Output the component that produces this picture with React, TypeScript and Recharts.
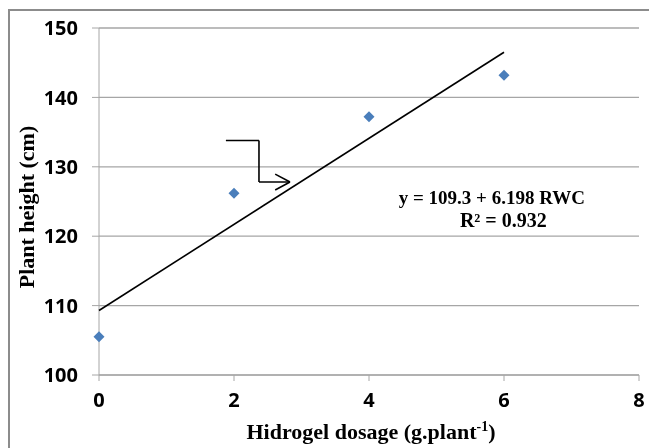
import { ScatterChart, Scatter, XAxis, YAxis, CartesianGrid, ReferenceLine, ReferenceDot } from "recharts";

const dosage = [0, 2, 4, 6];
const plantHeight = [105.5, 126.2, 137.2, 143.2];

const trendX = [0, 6];
const trendY = [109.3, 146.5];

const xTicks = [0, 2, 4, 6, 8];
const yTicks = [100, 110, 120, 130, 140, 150];

// bent arrow annotation, in data units
const arrowPath = [
  { x: 1.88, y: 133.8 },
  { x: 2.37, y: 133.8 },
  { x: 2.37, y: 127.8 },
  { x: 2.83, y: 127.8 },
];
const arrowHead = [
  { x: 2.61, y: 128.95 },
  { x: 2.83, y: 127.8 },
  { x: 2.61, y: 126.65 },
];

const points = dosage.map((x, i) => ({ x, y: plantHeight[i] }));
const trend = trendX.map((x, i) => ({ x, y: trendY[i] }));

const GRID = "#a6a6a6";
const SERIF = "'Liberation Serif', 'Times New Roman', serif";
const SANS = "'Open Sans', 'Liberation Sans', sans-serif";

const Diamond = (props: any) => {
  const { cx, cy } = props;
  const r = 5.5;
  return (
    <polygon
      points={`${cx},${cy - r} ${cx + r},${cy} ${cx},${cy + r} ${cx - r},${cy}`}
      fill="#4a7ebb"
    />
  );
};

const NoDot = () => null;

export default function App() {
  // fixed so the page never grows a scrollbar
  return (
    <div style={{ position: "fixed", left: 8, top: 8, width: 641, height: 440, overflow: "hidden" }}>
      <div
        style={{
          position: "absolute",
          left: 0,
          top: 1,
          width: 660,
          height: 460,
          borderLeft: "2px solid #8c8c8c",
          borderTop: "2px solid #8c8c8c",
        }}
      />
      <div style={{ position: "absolute", left: 0, top: 0 }}>
        <ScatterChart width={641} height={440} margin={{ top: 20, right: 10, left: 0, bottom: 0 }}>
          <CartesianGrid vertical={false} stroke={GRID} strokeWidth={1.3} />
          <XAxis
            type="number"
            dataKey="x"
            domain={[0, 8]}
            ticks={xTicks}
            height={73}
            stroke={GRID}
            tickSize={6}
            tickMargin={12}
            tick={{ fill: "#000", fontFamily: SANS, fontWeight: 700, fontSize: 20 }}
            label={{
              position: "insideBottom",
              content: () => (
                <text
                  x={363}
                  y={431}
                  textAnchor="middle"
                  fontFamily={SERIF}
                  fontWeight={700}
                  fontSize={22}
                  fill="#000"
                >
                  Hidrogel dosage (g.plant
                  <tspan dy={-8} fontSize={14}>-1</tspan>
                  <tspan dy={8}>)</tspan>
                </text>
              ),
            }}
          />
          <YAxis
            type="number"
            dataKey="y"
            domain={[100, 150]}
            ticks={yTicks}
            width={91}
            stroke={GRID}
            tickSize={7}
            tickMargin={14}
            tick={{ fill: "#000", fontFamily: SANS, fontWeight: 700, fontSize: 20 }}
            label={{
              position: "insideLeft",
              content: () => (
                <text
                  x={18}
                  y={199}
                  transform="rotate(-90 18 199)"
                  textAnchor="middle"
                  dominantBaseline="central"
                  fontFamily={SERIF}
                  fontWeight={700}
                  fontSize={22}
                  fill="#000"
                >
                  Plant height (cm)
                </text>
              ),
            }}
          />
          <Scatter
            data={trend}
            line={{ stroke: "#000", strokeWidth: 1.6 }}
            shape={NoDot}
            isAnimationActive={false}
          />
          <Scatter data={points} shape={Diamond} isAnimationActive={false} />
          {arrowPath.slice(1).map((p, i) => (
            <ReferenceLine
              key={"a" + i}
              segment={[arrowPath[i], p]}
              stroke="#000"
              strokeWidth={1.6}
            />
          ))}
          {arrowHead.slice(1).map((p, i) => (
            <ReferenceLine
              key={"h" + i}
              segment={[arrowHead[i], p]}
              stroke="#000"
              strokeWidth={1.6}
            />
          ))}
          <ReferenceDot
            x={5.82}
            y={125.6}
            r={0}
            stroke="none"
            label={{
              value: "y = 109.3 + 6.198 RWC",
              position: "center",
              fill: "#000",
              fontFamily: SERIF,
              fontWeight: 700,
              fontSize: 19,
            }}
          />
          <ReferenceDot
            x={5.99}
            y={122.3}
            r={0}
            stroke="none"
            label={{
              value: "R² = 0.932",
              position: "center",
              fill: "#000",
              fontFamily: SERIF,
              fontWeight: 700,
              fontSize: 20,
            }}
          />
        </ScatterChart>
      </div>
    </div>
  );
}
